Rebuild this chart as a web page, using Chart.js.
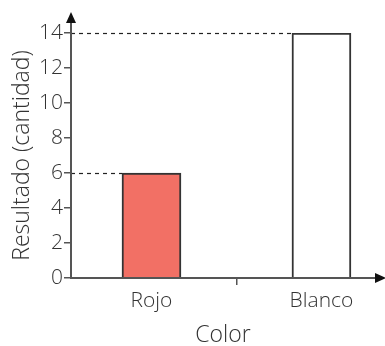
<!DOCTYPE html>
<html>
<head>
<meta charset="utf-8">
<script src="https://cdn.jsdelivr.net/npm/chart.js@4/dist/chart.umd.min.js"></script>
<style>
  html, body { margin: 0; padding: 0; background: #fff; }
  #wrap { width: 385px; height: 346px; position: relative; }
</style>
</head>
<body>
<div id="wrap"><canvas id="chart"></canvas></div>
<script>
const categories = ['Rojo', 'Blanco'];
const results = [6, 14];
const barColors = ['#F27065', '#FFFFFF'];
// bars sit on a linear x axis so the middle tick mark can sit between them
const xPositions = [1, 3];
const xTickValues = [1, 2, 3];

const textColor = '#333333';
const axisColor = '#555555';
const tickFont = { family: '"Open Sans", "Noto Sans", sans-serif', size: 21, weight: 300 };
const titleFont = { family: '"Open Sans", "Noto Sans", sans-serif', size: 23, weight: 300 };

// axis lines with arrow heads, plus the dashed lines out to each bar top
const axesPlugin = {
  id: 'axesPlugin',
  afterDatasetsDraw(chart) {
    const { ctx, chartArea, scales } = chart;
    const x0 = chartArea.left;
    const y0 = scales.y.getPixelForValue(0);

    ctx.save();
    ctx.strokeStyle = '#222';
    ctx.lineWidth = 1.2;
    ctx.setLineDash([4, 4]);
    chart.getDatasetMeta(0).data.forEach(bar => {
      const y = Math.round(bar.y) + 0.5;
      ctx.beginPath();
      ctx.moveTo(x0, y);
      ctx.lineTo(bar.x - bar.width / 2, y);
      ctx.stroke();
    });
    ctx.setLineDash([]);

    ctx.strokeStyle = axisColor;
    ctx.lineWidth = 2;
    ctx.beginPath();
    ctx.moveTo(x0, y0);
    ctx.lineTo(x0, chartArea.top - 10);
    ctx.moveTo(x0 - 1, y0);
    ctx.lineTo(chartArea.right, y0);
    ctx.stroke();

    ctx.fillStyle = '#111';
    // up arrow
    ctx.beginPath();
    ctx.moveTo(x0 - 5, chartArea.top - 10);
    ctx.lineTo(x0 + 5, chartArea.top - 10);
    ctx.lineTo(x0, chartArea.top - 21);
    ctx.closePath();
    ctx.fill();
    // right arrow
    ctx.beginPath();
    ctx.moveTo(chartArea.right, y0 - 5);
    ctx.lineTo(chartArea.right, y0 + 5);
    ctx.lineTo(chartArea.right + 11, y0);
    ctx.closePath();
    ctx.fill();
    ctx.restore();
  }
};

new Chart(document.getElementById('chart'), {
  type: 'bar',
  data: {
    datasets: [{
      data: categories.map((c, i) => ({ x: xPositions[i], y: results[i] })),
      backgroundColor: barColors,
      borderColor: '#333',
      borderWidth: 2,
      borderSkipped: 'start',
      barThickness: 59
    }]
  },
  options: {
    responsive: true,
    maintainAspectRatio: false,
    animation: false,
    layout: { padding: { top: 33, right: 10, left: 0, bottom: 0 } },
    plugins: {
      legend: { display: false },
      tooltip: { enabled: false }
    },
    scales: {
      x: {
        type: 'linear',
        offset: false,
        min: 0.053,
        max: 3.63,
        afterBuildTicks: scale => {
          scale.ticks = xTickValues.map(v => ({ value: v }));
        },
        afterFit: scale => { scale.height = 68; },
        ticks: {
          font: tickFont,
          color: textColor,
          padding: 3,
          maxRotation: 0,
          autoSkip: false,
          callback: v => {
            const i = xPositions.indexOf(v);
            return i >= 0 ? categories[i] : '';
          }
        },
        grid: {
          offset: false,
          drawOnChartArea: false,
          tickLength: 7,
          lineWidth: 1.5,
          color: ctx => (ctx.tick && ctx.tick.value === 2 ? axisColor : 'rgba(0,0,0,0)')
        },
        border: { display: false },
        title: { display: true, text: 'Color', font: titleFont, color: textColor, padding: { top: 0, bottom: -3 } }
      },
      y: {
        min: 0,
        max: 14,
        afterFit: scale => { scale.width = 71; },
        ticks: { stepSize: 2, font: tickFont, color: textColor, padding: 1 },
        grid: { drawOnChartArea: false, tickLength: 7, lineWidth: 1.5, color: axisColor },
        border: { display: false },
        title: { display: true, text: 'Resultado (cantidad)', font: titleFont, color: textColor, padding: { top: 9, bottom: 0 } }
      }
    }
  },
  plugins: [axesPlugin]
});
</script>
</body>
</html>
